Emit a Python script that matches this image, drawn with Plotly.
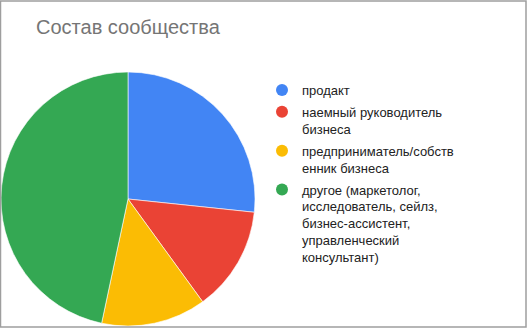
import plotly.graph_objects as go

categories = [
    "продакт",
    "наемный руководитель<br>бизнеса",
    "предприниматель/собств<br>енник бизнеса",
    "другое (маркетолог,<br>исследователь, сейлз,<br>бизнес-ассистент,<br>управленческий<br>консультант)",
]
values = [4, 2, 2, 7]
colors = ["#4285F4", "#EA4335", "#FBBC04", "#34A853"]
title_text = "Состав сообщества"

W, H = 529, 330

fig = go.Figure()
fig.add_trace(go.Pie(
    labels=categories,
    values=values,
    marker=dict(colors=colors, line=dict(color="white", width=0.6)),
    sort=False,
    direction="clockwise",
    rotation=0,
    textinfo="none",
    hoverinfo="label+value+percent",
    showlegend=False,
    domain=dict(x=[1 / W, 255 / W], y=[(H - 326) / H, (H - 72) / H]),
))

# legend entries (circle markers like the original)
for i, (lab, col) in enumerate(zip(categories, colors)):
    fig.add_trace(go.Scatter(
        x=[None], y=[None], mode="markers", name=lab,
        marker=dict(color=col, size=12, symbol="circle"),
        legendgroup=f"g{i}", showlegend=True, hoverinfo="skip",
    ))

fig.update_layout(
    width=W, height=H,
    margin=dict(l=0, r=0, t=0, b=0),
    paper_bgcolor="white",
    plot_bgcolor="white",
    xaxis=dict(visible=False),
    yaxis=dict(visible=False),
    title=dict(
        text=title_text,
        x=36 / W, xanchor="left", xref="paper",
        y=1 - 27 / H, yanchor="middle", yref="container",
        font=dict(family="Arial, Liberation Sans", size=20, color="#757575"),
    ),
    legend=dict(
        x=262 / W, xanchor="left",
        y=1 - 75 / H, yanchor="top",
        valign="top",
        font=dict(family="Arial, Liberation Sans", size=13, color="#222222"),
        tracegroupgap=2,
        bgcolor="rgba(0,0,0,0)",
        itemclick=False, itemdoubleclick=False,
    ),
    shapes=[dict(
        type="rect", xref="paper", yref="paper",
        x0=0.5 / W, x1=526 / W, y0=(H - 327) / H, y1=(H - 1) / H,
        line=dict(color="#9E9E9E", width=1.5), fillcolor="rgba(0,0,0,0)",
        layer="above",
    )],
    showlegend=True,
)

fig.write_html("out.html")
